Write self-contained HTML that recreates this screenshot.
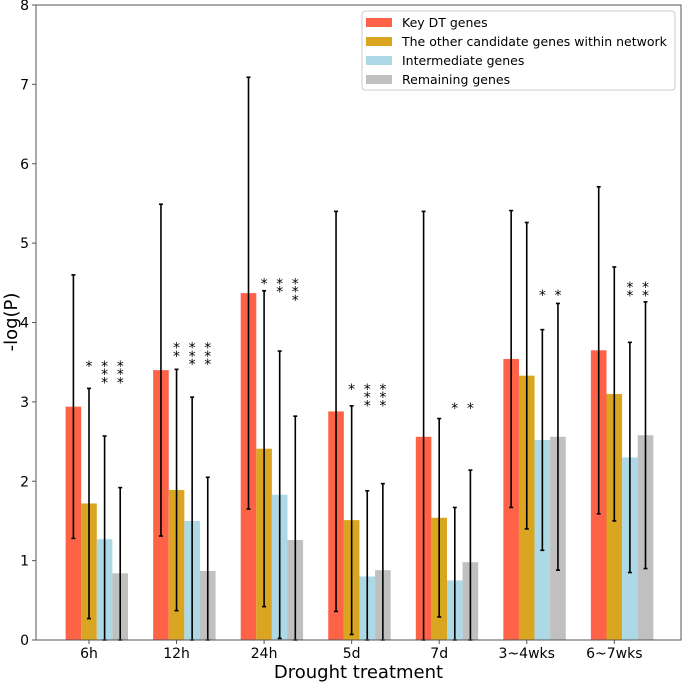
<!DOCTYPE html>
<html><head><meta charset="utf-8"><style>
body{margin:0;background:#fff}
svg text{font-family:"DejaVu Sans","Liberation Sans",sans-serif;fill:#000}
</style></head><body>
<svg id="chart" width="685" height="683" xmlns="http://www.w3.org/2000/svg"></svg>
<script>
const categories=["6h","12h","24h","5d","7d","3~4wks","6~7wks"];
const seriesNames=["Key DT genes","The other candidate genes within network","Intermediate genes","Remaining genes"];
const seriesColors=["#ff6347","#daa520","#add8e6","#c0c0c0"];
const keyDT=[2.94,3.40,4.37,2.88,2.56,3.54,3.65];
const otherCand=[1.72,1.89,2.41,1.51,1.54,3.33,3.10];
const intermediate=[1.27,1.50,1.83,0.80,0.75,2.52,2.30];
const remaining=[0.84,0.87,1.26,0.88,0.98,2.56,2.58];
const keyDTErr=[1.66,2.09,2.72,2.52,2.84,1.87,2.06];
const otherCandErr=[1.45,1.52,1.99,1.44,1.25,1.93,1.60];
const intermediateErr=[1.30,1.56,1.81,1.08,0.92,1.39,1.45];
const remainingErr=[1.08,1.18,1.56,1.09,1.16,1.68,1.68];
const starCounts=[[1,3,3],[2,3,3],[1,2,3],[1,3,3],[0,1,1],[0,1,1],[0,2,2]];
const starTop=[3.53,3.76,4.57,3.24,3.0,4.42,4.52];
const yTicks=[0,1,2,3,4,5,6,7,8];

const svg=document.getElementById('chart');
const NS="http://www.w3.org/2000/svg";
const L=36,R=681,T=5,B=640,YMAX=8;
const step=87.55,first=89;
const bw=15.6;
function x(i){return first+i*step;}
function y(v){return B-(v/YMAX)*(B-T);}
function mk(t,a){const e=document.createElementNS(NS,t);for(const k in a)e.setAttribute(k,a[k]);svg.appendChild(e);return e;}
const series=[keyDT,otherCand,intermediate,remaining];
const errs=[keyDTErr,otherCandErr,intermediateErr,remainingErr];
series.forEach((s,si)=>{
  s.forEach((v,i)=>{
    const cx=x(i)+(si-1)*bw;
    const r=mk('rect',{x:cx-bw/2,y:y(v),width:bw,height:B-y(v),fill:seriesColors[si]});
    
    
  });
});
series.forEach((s,si)=>{
  s.forEach((v,i)=>{
    const cx=x(i)+(si-1)*bw;
    const lo=Math.max(0,v-errs[si][i]),hi=v+errs[si][i];
    const g=mk('g',{stroke:'#000','stroke-width':1.6});
    
    
    const a=document.createElementNS(NS,'line');a.setAttribute('x1',cx);a.setAttribute('x2',cx);a.setAttribute('y1',y(lo));a.setAttribute('y2',y(hi));g.appendChild(a);
    [lo,hi].forEach(t=>{const c=document.createElementNS(NS,'line');c.setAttribute('x1',cx-2);c.setAttribute('x2',cx+2);c.setAttribute('y1',y(t));c.setAttribute('y2',y(t));g.appendChild(c);});
  });
});
starCounts.forEach((cs,i)=>{
  cs.forEach((n,k)=>{
    const cx=x(i)+k*bw;
    for(let j=0;j<n;j++){
      const t=mk('text',{x:cx,y:y(starTop[i])+j*8.3+11,'font-size':14,'text-anchor':'middle'});
      t.textContent='*';
      
      
    }
  });
});
const fr=mk('rect',{x:L,y:T,width:R-L,height:B-T,fill:'none',stroke:'#555','stroke-width':1});


yTicks.forEach(v=>{
  mk('line',{x1:L-4,x2:L,y1:y(v),y2:y(v),stroke:'#555'});
  const t=mk('text',{x:L-7,y:y(v)+5,'font-size':14,'text-anchor':'end'});
  t.textContent=v;
  
  
});
categories.forEach((c,i)=>{
  mk('line',{x1:x(i),x2:x(i),y1:B,y2:B+4,stroke:'#555'});
  const t=mk('text',{x:x(i),y:B+18,'font-size':14,'text-anchor':'middle'});
  t.textContent=c;
  
  
});
const xt=mk('text',{x:(L+R)/2,y:678,'font-size':18,'text-anchor':'middle'});
xt.textContent='Drought treatment';


const yt=mk('text',{x:0,y:0,'font-size':18,'text-anchor':'middle',transform:'translate(17,322) rotate(-90)'});
yt.textContent='-log(P)';


const lg=mk('rect',{x:362,y:11,width:313,height:79,rx:3,fill:'#fff',stroke:'#ccc'});


seriesNames.forEach((n,si)=>{
  const ry=22+si*19;
  mk('rect',{x:366,y:ry-4,width:26,height:9,fill:seriesColors[si]});
  const t=mk('text',{x:402,y:ry+5,'font-size':12.5});
  t.textContent=n;
  
  
});
</script>
</body></html>
